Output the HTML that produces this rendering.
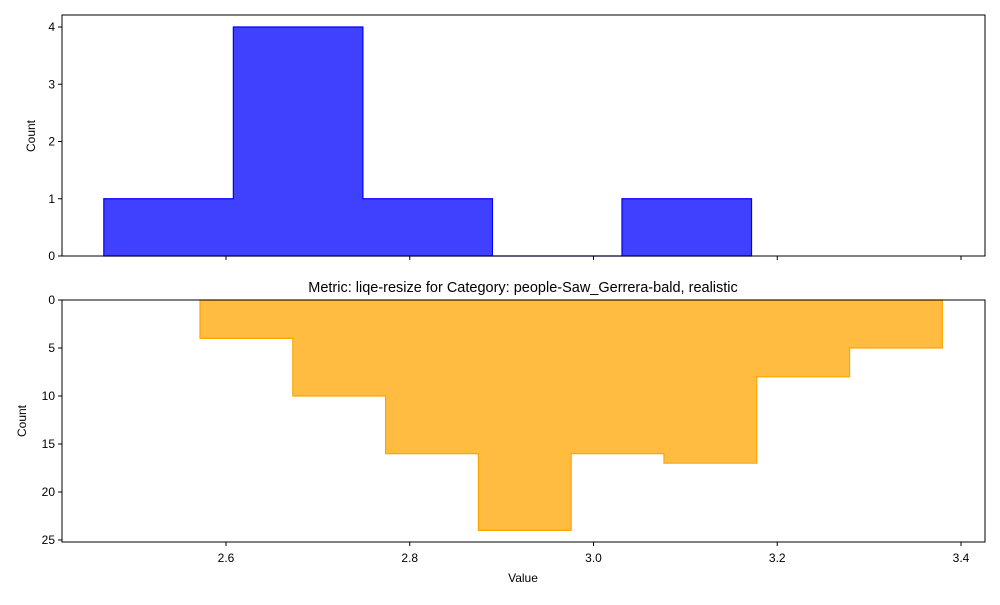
<!DOCTYPE html>
<html><head><meta charset="utf-8"><style>body{margin:0;background:#fff}svg{font-family:"Liberation Sans",sans-serif;font-size:12px}</style></head>
<body>
<svg id="c" width="1000" height="600"></svg>
<script>
const topEdges=[2.467,2.608,2.749,2.890,3.031,3.172];
const topCounts=[1,4,1,0,1];
const botEdges=[2.5717,2.6727,2.7737,2.8747,2.9757,3.0767,3.1777,3.2787,3.3797];
const botCounts=[4,10,16,24,16,17,8,5];
const xTicks=[2.6,2.8,3.0,3.2,3.4];
const topYTicks=[0,1,2,3,4];
const botYTicks=[0,5,10,15,20,25];
const NS="http://www.w3.org/2000/svg";
const svg=document.getElementById('c');
function el(t,a,p){const e=document.createElementNS(NS,t);for(const k in a)e.setAttribute(k,a[k]);(p||svg).appendChild(e);return e;}
const L=62,R=985;
const x=v=>226+(v-2.6)*918.75;
const yTop=v=>256-v*57.25;
const yBot=v=>300+v*9.6;
// top histogram
let d='M'+x(topEdges[0])+','+yTop(0);
topCounts.forEach((c,i)=>{d+=' L'+x(topEdges[i])+','+yTop(c)+' L'+x(topEdges[i+1])+','+yTop(c);});
d+=' L'+x(topEdges[topEdges.length-1])+','+yTop(0)+' Z';
const p1=el('path',{d:d,fill:'rgba(0,0,255,0.75)',stroke:'#0000ff','stroke-width':1.2});


// bottom histogram
d='M'+x(botEdges[0])+','+yBot(0);
botCounts.forEach((c,i)=>{d+=' L'+x(botEdges[i])+','+yBot(c)+' L'+x(botEdges[i+1])+','+yBot(c);});
d+=' L'+x(botEdges[botEdges.length-1])+','+yBot(0)+' Z';
const p2=el('path',{d:d,fill:'rgba(255,165,0,0.75)',stroke:'#ffa500','stroke-width':1.2});


// frames
const f1=el('rect',{x:L,y:15,width:R-L,height:241,fill:'none',stroke:'#000','stroke-width':1});


const f2=el('rect',{x:L,y:300,width:R-L,height:242,fill:'none',stroke:'#000','stroke-width':1});


// x ticks
xTicks.forEach(t=>{
 el('line',{x1:x(t),x2:x(t),y1:256,y2:260,stroke:'#000'});
 el('line',{x1:x(t),x2:x(t),y1:542,y2:546,stroke:'#000'});
 const tx=el('text',{x:x(t),y:562,'text-anchor':'middle'});tx.textContent=t.toFixed(1);
 
 
});
topYTicks.forEach(t=>{
 el('line',{x1:L-4,x2:L,y1:yTop(t),y2:yTop(t),stroke:'#000'});
 const tx=el('text',{x:L-7,y:yTop(t)+4,'text-anchor':'end'});tx.textContent=t;
 
 
});
botYTicks.forEach(t=>{
 el('line',{x1:L-4,x2:L,y1:yBot(t),y2:yBot(t),stroke:'#000'});
 const tx=el('text',{x:L-7,y:yBot(t)+4,'text-anchor':'end'});tx.textContent=t;
 
 
});
let t=el('text',{x:35,y:136,'text-anchor':'middle',transform:'rotate(-90 35 136)'});t.textContent='Count';

t=el('text',{x:26,y:421,'text-anchor':'middle',transform:'rotate(-90 26 421)'});t.textContent='Count';

t=el('text',{x:523,y:582,'text-anchor':'middle'});t.textContent='Value';

t=el('text',{x:523,y:292,'text-anchor':'middle','font-size':'14.5px'});t.textContent='Metric: liqe-resize for Category: people-Saw_Gerrera-bald, realistic';

</script>
</body></html>
